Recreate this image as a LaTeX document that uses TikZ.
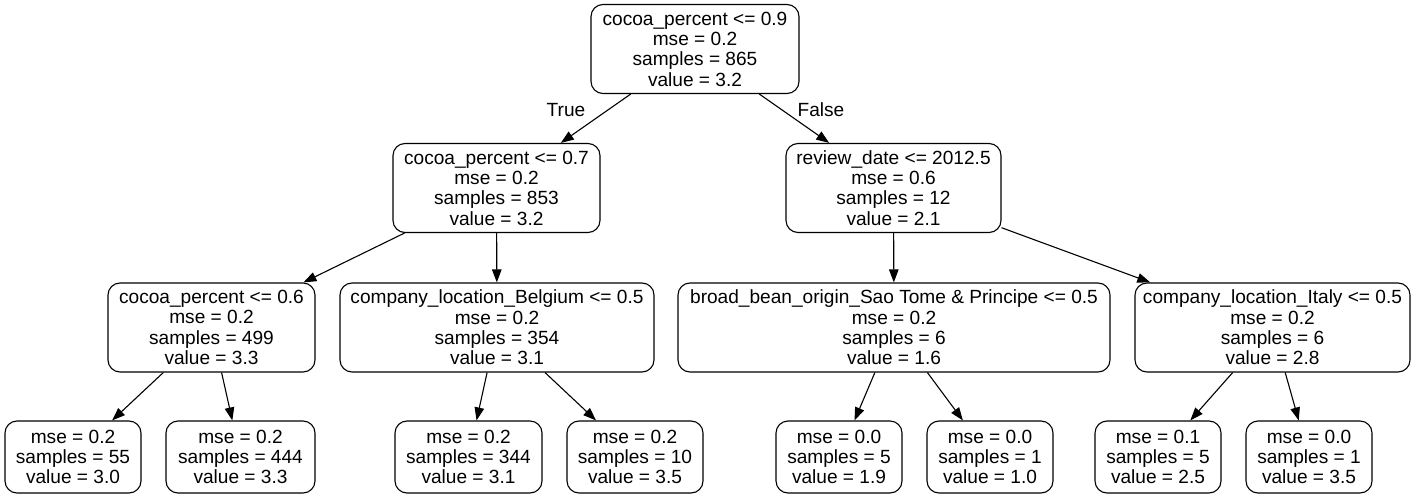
\documentclass[tikz,border=0pt]{standalone}
\usepackage{fontspec}
\setmainfont{Liberation Sans}
\usetikzlibrary{arrows.meta}
\begin{document}
\begin{tikzpicture}[x=1pt,y=-1pt,
  tn/.style={draw=black, line width=1.1pt, rounded corners=12pt, fill=white, align=center, inner sep=0pt,
    font=\fontsize{19.1}{20.3}\selectfont, minimum height=89pt},
  lf/.style={tn, minimum height=72pt},
  edge/.style={line width=1.1pt, -{Triangle[length=13pt,width=9.5pt]}},
  el/.style={font=\fontsize{19.1}{20.3}\selectfont}]
\useasboundingbox (0,0) rectangle (1419,497);
\node[tn, minimum width=208pt] (r) at (695,49) {cocoa\_percent <= 0.9\\mse = 0.2\\samples = 865\\value = 3.2};
\node[tn, minimum width=207pt] (n1) at (496.5,188) {cocoa\_percent <= 0.7\\mse = 0.2\\samples = 853\\value = 3.2};
\node[tn, minimum width=215pt] (n2) at (893.5,188) {review\_date <= 2012.5\\mse = 0.6\\samples = 12\\value = 2.1};
\node[tn, minimum width=207pt] (n3) at (211.5,327.5) {cocoa\_percent <= 0.6\\mse = 0.2\\samples = 499\\value = 3.3};
\node[tn, minimum width=314pt] (n4) at (497,327.5) {company\_location\_Belgium <= 0.5\\mse = 0.2\\samples = 354\\value = 3.1};
\node[tn, minimum width=432pt] (n5) at (894,327.5) {broad\_bean\_origin\_Sao Tome \& Principe <= 0.5\\mse = 0.2\\samples = 6\\value = 1.6};
\node[tn, minimum width=275pt] (n6) at (1272.5,327.5) {company\_location\_Italy <= 0.5\\mse = 0.2\\samples = 6\\value = 2.8};
\node[lf, minimum width=136pt] (l1) at (73,457) {mse = 0.2\\samples = 55\\value = 3.0};
\node[lf, minimum width=149pt] (l2) at (240.5,457) {mse = 0.2\\samples = 444\\value = 3.3};
\node[lf, minimum width=147pt] (l3) at (468.5,457) {mse = 0.2\\samples = 344\\value = 3.1};
\node[lf, minimum width=136pt] (l4) at (635,457) {mse = 0.2\\samples = 10\\value = 3.5};
\node[lf, minimum width=126pt] (l5) at (839,457) {mse = 0.0\\samples = 5\\value = 1.9};
\node[lf, minimum width=126pt] (l6) at (990,457) {mse = 0.0\\samples = 1\\value = 1.0};
\node[lf, minimum width=126pt] (l7) at (1158,457) {mse = 0.1\\samples = 5\\value = 2.5};
\node[lf, minimum width=126pt] (l8) at (1309,457) {mse = 0.0\\samples = 1\\value = 3.5};
\draw[edge] (r) -- (n1);
\draw[edge] (r) -- (n2);
\node[el] (tl) at (566,110) {True};
\node[el] (fl) at (821,110) {False};
\draw[edge] (n1) -- (n3);
\draw[edge] (n1) -- (n4);
\draw[edge] (n2) -- (n5);
\draw[edge] (n2) -- (n6);
\draw[edge] (n3) -- (l1);
\draw[edge] (n3) -- (l2);
\draw[edge] (n4) -- (l3);
\draw[edge] (n4) -- (l4);
\draw[edge] (n5) -- (l5);
\draw[edge] (n5) -- (l6);
\draw[edge] (n6) -- (l7);
\draw[edge] (n6) -- (l8);
\end{tikzpicture}
\end{document}
